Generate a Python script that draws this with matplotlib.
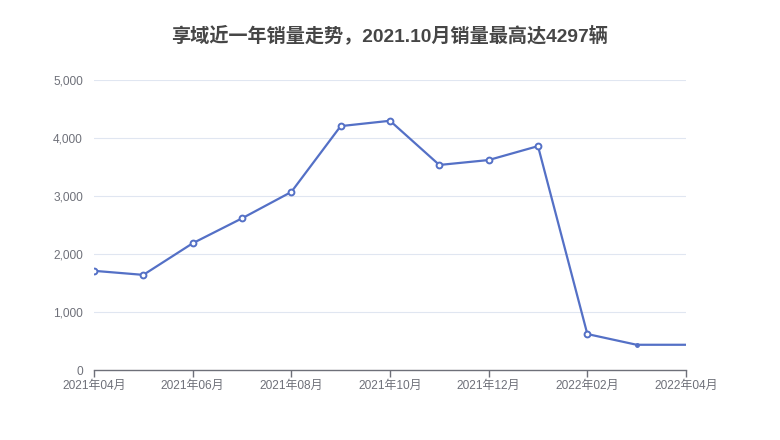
import matplotlib
matplotlib.use("Agg")
import matplotlib.pyplot as plt
from matplotlib.ticker import FuncFormatter

plt.rcParams['font.family'] = ['Liberation Sans', 'Noto Sans CJK SC', 'DejaVu Sans']

# Monthly sales, 2021-04 .. 2022-04
months = ["2021年04月", "2021年05月", "2021年06月", "2021年07月", "2021年08月",
          "2021年09月", "2021年10月", "2021年11月", "2021年12月", "2022年01月",
          "2022年02月", "2022年03月", "2022年04月"]
sales = [1710, 1640, 2185, 2615, 3070, 4205, 4297, 3535, 3620, 3860, 620, 435, 435]
title = "享域近一年销量走势，2021.10月销量最高达4297辆"

x = list(range(len(months)))

fig = plt.figure(figsize=(7.8, 4.4), dpi=100)
ax = fig.add_axes([94/780, 1 - 370/440, (686 - 94)/780, (370 - 80)/440])

# grid lines
for v in range(1000, 5001, 1000):
    ax.axhline(v, color="#e0e6f1", lw=0.8, zorder=0)

ax.plot(x, sales, color="#5470c6", lw=1.6, zorder=2)
# markers (last two points drawn without a hollow symbol)
ax.plot(x[:11], sales[:11], ls="none", marker="o", ms=4.2, mfc="white",
        mec="#5470c6", mew=1.4, zorder=3)
ax.plot(x[11], sales[11], ls="none", marker="o", ms=2.5, color="#5470c6", zorder=3)

ax.set_xlim(0, len(months) - 1)
ax.set_ylim(0, 5000)
ax.set_xticks(x[::2])
ax.set_xticklabels(months[::2])
ax.set_yticks(range(0, 5001, 1000))
ax.yaxis.set_major_formatter(FuncFormatter(lambda v, p: f"{int(v):,}"))

for s in ["top", "right", "left"]:
    ax.spines[s].set_visible(False)
ax.spines["bottom"].set_color("#6e7079")
ax.spines["bottom"].set_linewidth(1)
ax.tick_params(axis="x", colors="#6e7079", length=5, width=1, labelsize=8.6,
               labelcolor="#6e7079", pad=2)
ax.tick_params(axis="y", length=0, labelsize=8.6, labelcolor="#6e7079", pad=8)

fig.text(0.5, 1 - 35/440, title, ha="center", va="center", fontsize=13.8,
         fontweight="bold", color="#464646")

fig.savefig("out.png", dpi=100)
